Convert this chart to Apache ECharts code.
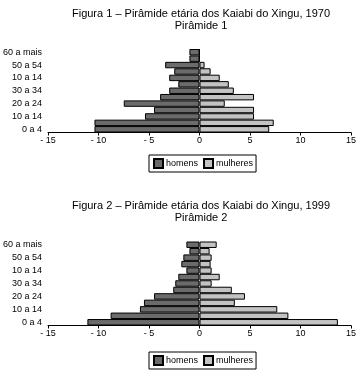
<!DOCTYPE html>
<html><head><meta charset="utf-8">
<script src="https://cdn.jsdelivr.net/npm/echarts@6/dist/echarts.min.js"></script>
<style>html,body{margin:0;padding:0;background:#fff}#c{width:359px;height:371px}</style>
</head><body><div id="c"></div>
<script>
var categories = ['0 a 4','5 a 9','10 a 14','15 a 19','20 a 24','25 a 29','30 a 34','35 a 39','40 a 44','45 a 49','50 a 54','55 a 59','60 a mais'];
var tickLabels = ['0 a 4','','10 a 14','','20 a 24','','30 a 34','','10 a 14','','50 a 54','','60 a mais'];
var xTicks = ['- 15','- 10','- 5','0','5','10','15'];
var homens1970 = [10.4, 10.4, 5.4, 4.5, 7.5, 3.9, 3.0, 2.1, 3.0, 2.5, 3.4, 1.0, 1.0];
var mulheres1970 = [6.9, 7.35, 5.4, 5.4, 2.5, 5.4, 3.4, 2.9, 2.0, 1.1, 0.5, 0, 0];
var homens1999 = [11.1, 8.8, 5.9, 5.5, 4.5, 2.6, 2.4, 2.1, 1.3, 1.8, 1.6, 1.0, 1.3];
var mulheres1999 = [13.7, 8.8, 7.7, 3.5, 4.5, 3.2, 1.2, 2.0, 1.2, 1.1, 1.2, 1.0, 1.7];
var titles = ['Figura 1 – Pirâmide etária dos Kaiabi do Xingu, 1970\nPirâmide 1','Figura 2 – Pirâmide etária dos Kaiabi do Xingu, 1999\nPirâmide 2'];

var DARK = '#6b6b6b', LIGHT = '#c3c3c3', FONT = 'Liberation Sans, Arial, sans-serif';
var neg = function(a){ return a.map(function(v){ return -v; }); };

var grids = [{left:48, right:7, top:49, height:83.5}, {left:48, right:7, top:241.5, height:84}];
var xAxes = [], yAxes = [], series = [], titleArr = [], legends = [];
var titleTops = [3, 195], legendTops = [155, 352];
[[homens1970, mulheres1970],[homens1999, mulheres1999]].forEach(function(d, i){
  xAxes.push({gridIndex:i, type:'value', min:-15, max:15, interval:5,
    splitLine:{show:false},
    axisLine:{show:true, onZero:false, lineStyle:{color:'#000', width:1}},
    axisTick:{show:true, length:3, lineStyle:{color:'#000'}},
    axisLabel:{color:'#000', fontSize:9, fontFamily:FONT, margin:4,
      formatter:function(v){ return xTicks[Math.round((v+15)/5)]; }}});
  yAxes.push({gridIndex:i, type:'category', data:categories,
    axisLine:{show:false}, axisTick:{show:false},
    axisLabel:{interval:0, color:'#000', fontSize:9, fontFamily:FONT, margin:6,
      formatter:function(v, idx){ return tickLabels[idx]; }}});
  series.push({name:'homens', type:'bar', xAxisIndex:i, yAxisIndex:i, data:neg(d[0]),
    barCategoryGap:'0%', barGap:'-100%', itemStyle:{color:DARK, borderColor:'#000', borderWidth:1}});
  series.push({name:'mulheres', type:'bar', xAxisIndex:i, yAxisIndex:i, data:d[1],
    barCategoryGap:'0%', barGap:'-100%', itemStyle:{color:LIGHT, borderColor:'#000', borderWidth:1}});
  titleArr.push({text:titles[i], left:196, top:titleTops[i], textAlign:'center',
    textStyle:{fontSize:11, fontWeight:'normal', color:'#000', fontFamily:FONT, lineHeight:12}});
  legends.push({data:['homens','mulheres'], left:149, top:legendTops[i], orient:'horizontal',
    itemWidth:9, itemHeight:9, itemGap:5, padding:[3,3,3,4], borderColor:'#000', borderWidth:1,
    icon:'rect', textStyle:{fontSize:9, color:'#000', fontFamily:FONT, padding:[0,0,0,-2]}, selectedMode:false});
});

var chart = echarts.init(document.getElementById('c'), null, {renderer:'canvas'});
chart.setOption({animation:false, backgroundColor:'#fff', title:titleArr, legend:legends,
  grid:grids, xAxis:xAxes, yAxis:yAxes, series:series});
</script></body></html>
